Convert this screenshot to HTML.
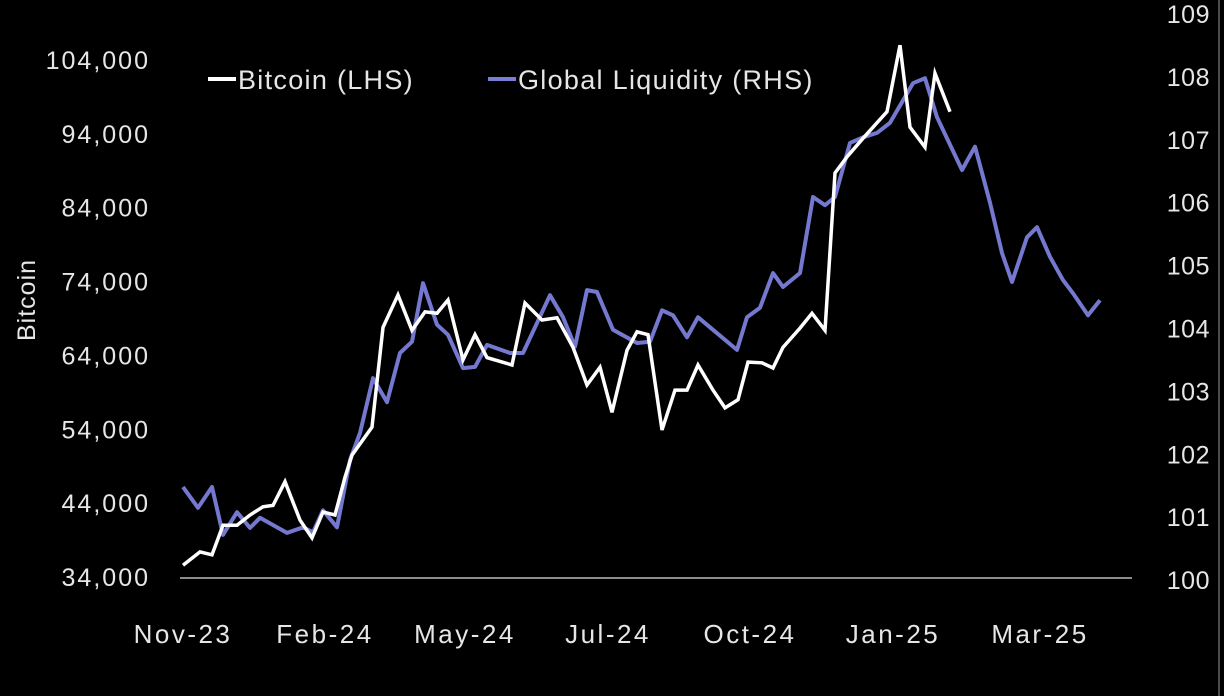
<!DOCTYPE html>
<html><head><meta charset="utf-8">
<style>
html,body{margin:0;padding:0;background:#000;}
svg{display:block;}
text{font-family:"Liberation Sans",sans-serif;fill:#e6e6e6;}
</style></head>
<body>
<svg id="chart" width="1224" height="696" viewBox="0 0 1224 696" xmlns="http://www.w3.org/2000/svg">
<rect x="0" y="0" width="1224" height="696" fill="#000"/>
<g id="axes"></g>
<g id="series"></g>
<g>
  <line x1="208" y1="79" x2="236" y2="79" stroke="#fff" stroke-width="4"/>
  <text x="238" y="89" font-size="27" letter-spacing="1.3">Bitcoin (LHS)</text>
  <line x1="488" y1="79" x2="516" y2="79" stroke="#7b7fd4" stroke-width="4"/>
  <text x="518" y="89" font-size="27" letter-spacing="1.3">Global Liquidity (RHS)</text>
</g>
<text transform="translate(35,300) rotate(-90)" text-anchor="middle" font-size="25" letter-spacing="1">Bitcoin</text>
<line x1="1219" y1="0" x2="1219" y2="696" stroke="#999" stroke-width="1"/>
</svg>
<script>
const leftTicks=[34000,44000,54000,64000,74000,84000,94000,104000];
const rightTicks=[100,101,102,103,104,105,106,107,108,109];
const xLabels=["Nov-23","Feb-24","May-24","Jul-24","Oct-24","Jan-25","Mar-25"];
const xLabelT=[0,14.2,28.2,42.5,56.7,71,85.7];
const btcT=[0,1.7,2.9,4.0,5.4,6.7,8.0,9.0,10.2,11.7,12.9,14.0,15.2,16.2,16.9,18.9,20.0,21.5,22.9,24.2,25.4,26.5,28.0,29.2,30.4,32.9,34.2,35.9,37.4,39.0,40.4,41.7,42.9,44.4,45.4,46.5,47.9,49.2,50.4,51.5,53.0,54.2,55.5,56.5,57.9,59.0,60.0,61.7,62.9,64.2,65.2,66.4,68.0,70.4,71.7,72.7,74.2,75.2,76.7];
const btcV=[35600,37400,37000,41000,41000,42400,43500,43700,46900,41700,39300,42800,42400,47500,50500,54300,67800,72200,67400,69900,69700,71500,63400,66800,63700,62700,71100,68800,69100,65100,60000,62400,56300,64700,67200,66800,53900,59300,59300,62700,59300,56900,58000,63100,63000,62300,65100,67700,69700,67400,88700,90900,93400,97000,106000,94900,92200,102200,97000];
const liqT=[0,1.5,2.9,4.0,5.4,6.7,7.7,10.4,12.0,13.0,14.0,15.4,16.7,17.7,19.0,20.4,21.7,22.9,24.0,25.4,26.5,28.0,29.2,30.4,32.7,34.0,36.7,38.0,39.2,40.4,41.4,43.0,45.4,46.7,47.9,49.0,50.4,51.5,53.0,55.4,56.4,57.7,59.0,60.0,61.7,63.0,64.2,65.2,66.7,68.0,69.4,70.7,73.0,74.2,75.4,77.9,79.2,80.7,81.9,82.9,84.4,85.4,86.7,88.0,89.0,90.5,91.7];
const liqV=[101.48,101.15,101.48,100.72,101.08,100.83,100.99,100.75,100.84,100.76,101.11,100.84,101.91,102.34,103.21,102.83,103.61,103.79,104.72,104.06,103.90,103.37,103.39,103.74,103.61,103.61,104.53,104.18,103.71,104.61,104.58,103.98,103.77,103.79,104.29,104.21,103.86,104.18,103.98,103.66,104.18,104.33,104.88,104.66,104.88,106.09,105.96,106.09,106.95,107.04,107.11,107.27,107.90,107.98,107.36,106.52,106.89,106.00,105.20,104.74,105.45,105.61,105.14,104.77,104.56,104.21,104.45];

const NS="http://www.w3.org/2000/svg";
const xS=t=>183+t*10;
const yL=v=>60+(104000-v)*517/70000;
const yR=v=>14+(109-v)*62.9;
function mk(tag,attrs,parent,txt){const e=document.createElementNS(NS,tag);for(const k in attrs)e.setAttribute(k,attrs[k]);if(txt!==undefined)e.textContent=txt;parent.appendChild(e);return e;}
const axes=document.getElementById('axes');
const ser=document.getElementById('series');
const base=mk('line',{x1:180,y1:578,x2:1132,y2:578,stroke:'#bbb','stroke-width':1.5},axes);


leftTicks.forEach(v=>{
  const t=mk('text',{x:150,y:yL(v)+9,'text-anchor':'end','font-size':25,'letter-spacing':2},axes,v.toLocaleString('en-US'));
  
  
});
rightTicks.forEach(v=>{
  const t=mk('text',{x:1210,y:yR(v)+9,'text-anchor':'end','font-size':25,'letter-spacing':0.5},axes,String(v));
  
  
});
xLabels.forEach((l,i)=>{
  const t=mk('text',{x:xS(xLabelT[i]),y:643,'text-anchor':'middle','font-size':26,'letter-spacing':2.5},axes,l);
  
  
});
const liqPts=liqT.map((t,i)=>xS(t).toFixed(1)+','+yR(liqV[i]).toFixed(1)).join(' ');
const lp=mk('polyline',{points:liqPts,fill:'none',stroke:'#7478cf','stroke-width':4,'stroke-linejoin':'round'},ser);


const btcPts=btcT.map((t,i)=>xS(t).toFixed(1)+','+yL(btcV[i]).toFixed(1)).join(' ');
const bp=mk('polyline',{points:btcPts,fill:'none',stroke:'#fff','stroke-width':3.5,'stroke-linejoin':'miter'},ser);


ser.insertBefore(lp,bp);
</script>
</body></html>
